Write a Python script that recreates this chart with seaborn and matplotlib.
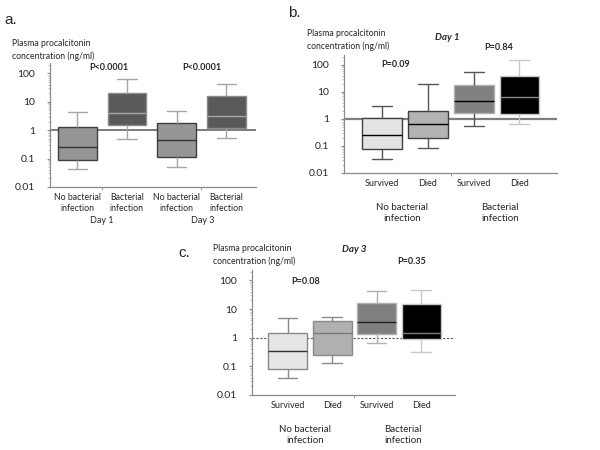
import numpy as np
import pandas as pd
import matplotlib
matplotlib.use('Agg')
import matplotlib.pyplot as plt
import seaborn as sns

# five-number summaries: whisker low, Q1, median, Q3, whisker high
a_keys = ['nb_d1', 'b_d1', 'nb_d3', 'b_d3']
a_ticks = ['No bacterial\ninfection', 'Bacterial\ninfection', 'No bacterial\ninfection', 'Bacterial\ninfection']
a_days = ['Day 1', 'Day 3']
a_stats = [[0.043, 0.088, 0.25, 1.25, 4.5],
           [0.47, 1.5, 4.1, 21, 65],
           [0.05, 0.11, 0.45, 1.8, 4.6],
           [0.52, 1.15, 3.1, 16, 42]]

b_keys = ['nb_s', 'nb_d', 'b_s', 'b_d']
bc_ticks = ['Survived', 'Died', 'Survived', 'Died']
bc_groups = ['No bacterial\ninfection', 'Bacterial\ninfection']
b_stats = [[0.033, 0.08, 0.25, 1.1, 3.0],
           [0.085, 0.19, 0.65, 1.9, 20],
           [0.55, 1.7, 4.5, 18, 55],
           [0.65, 1.5, 6.5, 40, 150]]
c_stats = [[0.04, 0.08, 0.33, 1.5, 4.8],
           [0.13, 0.25, 1.4, 3.8, 5.2],
           [0.65, 1.3, 3.5, 16, 42],
           [0.32, 0.9, 1.4, 15, 45]]

yticks = [0.01, 0.1, 1, 10, 100]
ytick_labels = ['0.01', '0.1', '1', '10', '100']

sns.set_style('white')
plt.rcParams['font.family'] = ['Lato', 'DejaVu Sans']

W, H = 600, 450
fig = plt.figure(figsize=(6, 4.5), dpi=100)


def px_axes(l, t, r, b):
    return fig.add_axes([l / W, 1 - b / H, (r - l) / W, (b - t) / H])


def px_text(x, y, s, **kw):
    fig.text(x / W, 1 - y / H, s, **kw)


def draw_panel(ax, keys, stats, faces, edges, whisk, meds, width):
    df = pd.DataFrame({'grp': np.repeat(keys, 5), 'val': np.concatenate(stats)})
    sns.boxplot(data=df, x='grp', y='val', hue='grp', order=keys, hue_order=keys,
                palette=dict(zip(keys, faces)), whis=(0, 100), width=width,
                linewidth=1, log_scale=True, legend=False, ax=ax)
    for i, cont in enumerate(ax.containers):
        for bx in cont.boxes:
            bx.set_edgecolor(edges[i])
        for m in cont.medians:
            m.set_color(meds[i])
        for w in list(cont.whiskers) + list(cont.caps):
            w.set_color(whisk[i])
    ax.set_yscale('log')
    ax.set_ylim(0.01, 230)
    ax.set_yticks(yticks)
    ax.set_yticklabels(ytick_labels, fontsize=7.5)
    ax.set_xlabel('')
    ax.set_ylabel('')
    for s in ['top', 'right']:
        ax.spines[s].set_visible(False)
    for s in ['left', 'bottom']:
        ax.spines[s].set_color('#8c8c8c')
        ax.spines[s].set_linewidth(0.9)
    ax.tick_params(axis='y', which='major', length=2.5, color='#8c8c8c', pad=8, left=True)
    ax.tick_params(axis='y', which='minor', length=1.5, color='#bbbbbb', left=True)
    ax.tick_params(axis='x', which='major', length=0, pad=4)
    ax.tick_params(axis='x', which='minor', length=2.5, color='#8c8c8c', bottom=True)


# panel a
ax_a = px_axes(50, 63, 256, 187)
draw_panel(ax_a, a_keys, a_stats,
           ['#969696', '#595959', '#969696', '#595959'],
           ['#3f3f3f', '#8a8a8a', '#3f3f3f', '#8a8a8a'],
           ['#a6a6a6'] * 4,
           ['#333333', '#a6a6a6', '#333333', '#a6a6a6'], 0.78)
ax_a.set_xlim(-0.55, 3.6)
ax_a.axhline(1, color='#595959', lw=1.1, zorder=0.5)
ax_a.set_xticks(range(4))
ax_a.set_xticklabels(a_ticks, fontsize=6.3, linespacing=1.3)
ax_a.set_xticks([0.5, 2.5], minor=True)
for x, d in zip([102, 203], a_days):
    px_text(x, 221, d, fontsize=6.5, ha='center', va='center')
px_text(109, 67, 'P<0.0001', fontsize=6.5, fontweight='bold', ha='center', va='center')
px_text(202, 67, 'P<0.0001', fontsize=6.5, fontweight='bold', ha='center', va='center')
px_text(12, 50, 'Plasma procalcitonin\nconcentration (ng/ml)', fontsize=6.2,
        ha='left', va='center', linespacing=1.4)
px_text(4, 20, 'a.', fontsize=11, family='Liberation Sans', ha='left', va='center')

# panel b
ax_b = px_axes(344, 55, 557, 173)
draw_panel(ax_b, b_keys, b_stats,
           ['#e3e3e3', '#b3b3b3', '#808080', '#000000'],
           ['#404040', '#404040', '#b0b0b0', '#c8c8c8'],
           ['#555555', '#555555', '#555555', '#c8c8c8'],
           ['#000000', '#000000', '#000000', '#8a8a8a'], 0.87)
ax_b.set_xlim(-0.83, 3.82)
ax_b.axhline(1, color='#7f7f7f', lw=1.6, zorder=0.5)
ax_b.set_xticks(range(4))
ax_b.set_xticklabels(bc_ticks, fontsize=6.5)
ax_b.set_xticks([1.5], minor=True)
for x, g in zip([402, 500], bc_groups):
    px_text(x, 213, g, fontsize=7, ha='center', va='center', linespacing=1.3)
px_text(447, 38, 'Day 1', fontsize=7, fontweight='bold', style='italic', ha='center', va='center')
px_text(396, 65, 'P=0.09', fontsize=6.5, fontweight='bold', ha='center', va='center')
px_text(499, 47, 'P=0.84', fontsize=6.5, fontweight='bold', ha='center', va='center')
px_text(307, 40, 'Plasma procalcitonin\nconcentration (ng/ml)', fontsize=6.2,
        ha='left', va='center', linespacing=1.4)
px_text(288, 13, 'b.', fontsize=11, family='Liberation Sans', ha='left', va='center')

# panel c
ax_c = px_axes(252, 270, 455, 395)
draw_panel(ax_c, b_keys, c_stats,
           ['#e6e6e6', '#b0b0b0', '#7f7f7f', '#000000'],
           ['#8a8a8a', '#8a8a8a', '#b0b0b0', '#c8c8c8'],
           ['#8a8a8a', '#8a8a8a', '#b0b0b0', '#c8c8c8'],
           ['#333333', '#7a7a7a', '#222222', '#7a7a7a'], 0.88)
ax_c.set_xlim(-0.8, 3.76)
ax_c.axhline(1, color='#555555', lw=0.8, ls=(0, (2, 1.5)), zorder=0.5)
ax_c.set_xticks(range(4))
ax_c.set_xticklabels(bc_ticks, fontsize=6.5)
ax_c.set_xticks([1.5], minor=True)
for x, g in zip([305, 403], bc_groups):
    px_text(x, 435, g, fontsize=7, ha='center', va='center', linespacing=1.3)
px_text(354, 249, 'Day 3', fontsize=7, fontweight='bold', style='italic', ha='center', va='center')
px_text(306, 281, 'P=0.08', fontsize=6.5, fontweight='bold', ha='center', va='center')
px_text(412, 262, 'P=0.35', fontsize=6.5, fontweight='bold', ha='center', va='center')
px_text(213, 255, 'Plasma procalcitonin\nconcentration (ng/ml)', fontsize=6.2,
        ha='left', va='center', linespacing=1.4)
px_text(178, 253, 'c.', fontsize=11, family='Liberation Sans', ha='left', va='center')

fig.savefig('out.png', dpi=100)
